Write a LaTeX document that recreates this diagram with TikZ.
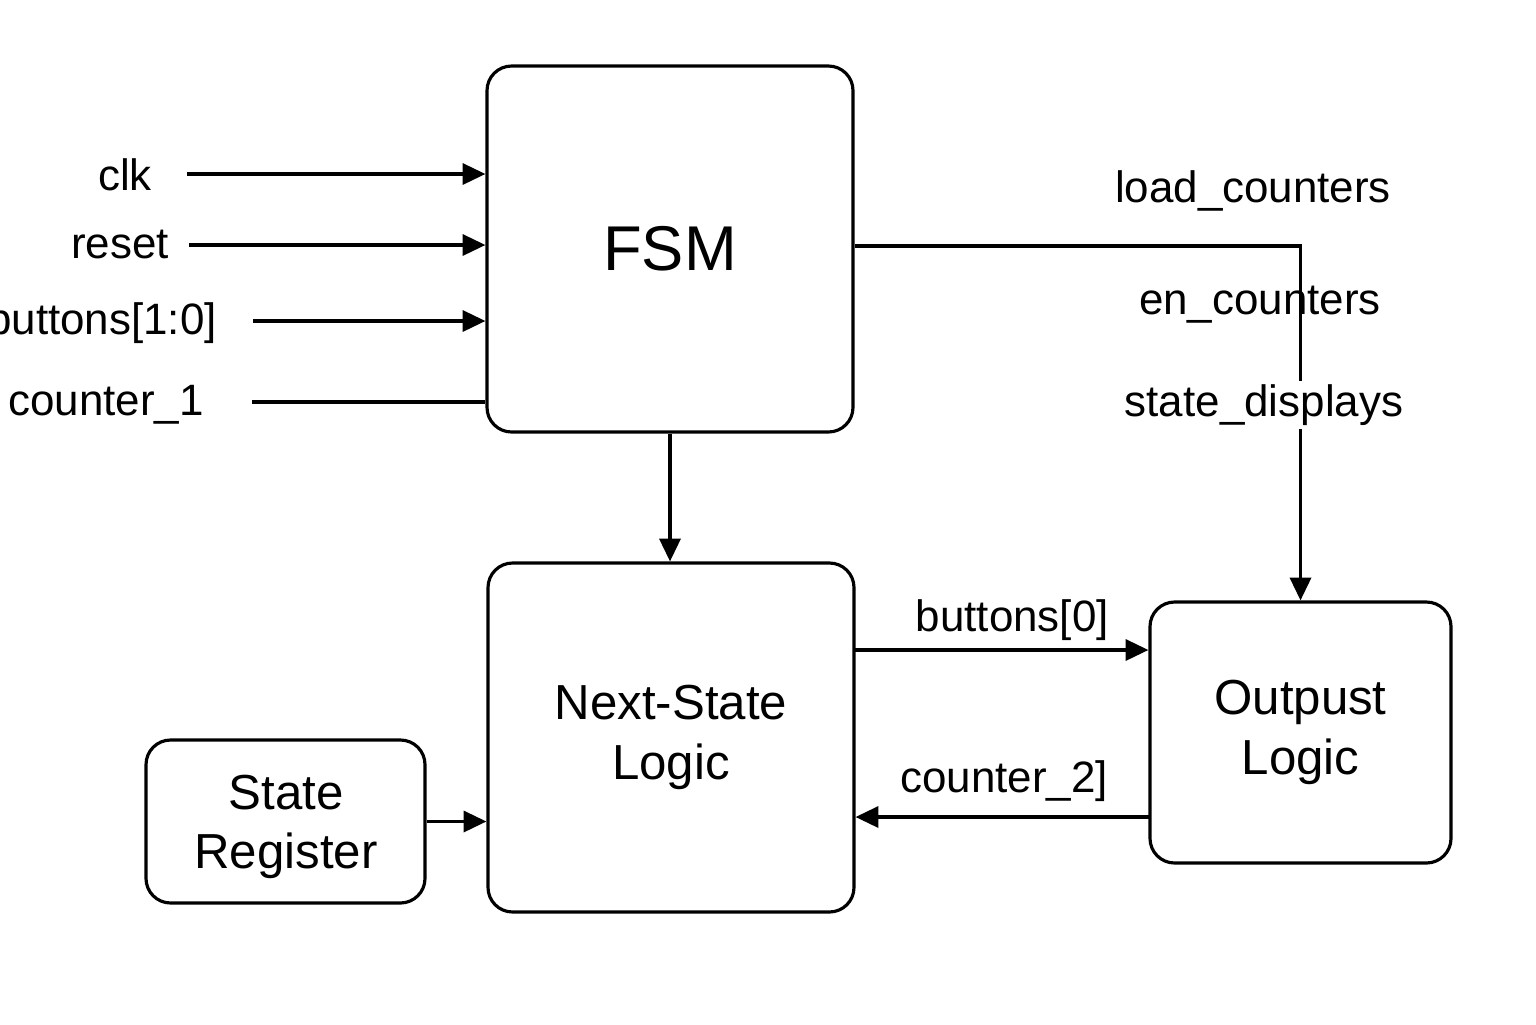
\documentclass[tikz,border=0pt]{standalone}
\usepackage{fontspec}
\setmainfont{Liberation Sans}
\usetikzlibrary{arrows.meta,positioning}

\begin{document}
\begin{tikzpicture}[
  block/.style = {draw, line width = 0.9pt, shape = rectangle, rounded corners = 7pt, align = center, font = \fontsize{14}{17}\selectfont},
  sig/.style = {font = \fontsize{12.5}{15}\selectfont, inner sep = 1pt},
  wire/.style = {line width = 0.9pt},
  arr/.style = {wire, -{Triangle[length = 6.5pt, width = 6pt]}}
]
\useasboundingbox (0,0) rectangle (15.36,-10.24);
% blocks
\node[block, minimum width = 3.66cm, minimum height = 3.66cm, font = \fontsize{18}{21}\selectfont] (fsm) at (6.70,-2.49) {FSM};
\node[block, minimum width = 3.66cm, minimum height = 3.49cm] (nsl) at (6.71,-7.375) {Next-State\\Logic};
\node[block, minimum width = 2.79cm, minimum height = 1.63cm] (reg) at (2.855,-8.215) {};
\node[align = center, font = \fontsize{14}{17}\selectfont] (regtxt) at (2.86,-8.27) {State\\Register};
\node[block, minimum width = 3.01cm, minimum height = 2.61cm] (out) at (13.005,-7.325) {Outpust\\Logic};
% inputs of the FSM
\node[sig, anchor = east] (clk) at (1.56,-1.75) {clk};
\node[sig, anchor = east] (rst) at (1.73,-2.45) {reset};
\node[sig, anchor = east] (btn) at (2.21,-3.23) {buttons[1:0]};
\node[sig, anchor = east] (cnt1) at (2.08,-4.05) {counter\_1};
\coordinate (clkin) at (1.87,-1.74);
\coordinate (rstin) at (1.89,-2.45);
\coordinate (btnin) at (2.53,-3.21);
\coordinate (cnt1in) at (2.52,-4.02);
\draw[arr] (clkin) -- (clkin -| fsm.west);
\draw[arr] (rstin) -- (rstin -| fsm.west);
\draw[arr] (btnin) -- (btnin -| fsm.west);
\draw[wire] (cnt1in) -- (cnt1in -| fsm.west);
% FSM to the other blocks
\draw[arr] (fsm.south) -- (fsm.south |- nsl.north);
\coordinate (bend) at (13.005,-2.46);
\draw[arr] (fsm.east |- bend) -- (bend) -- (out.north);
\node[sig] (load) at (12.53,-1.91) {load\_counters};
\node[sig] (en) at (12.60,-3.05) {en\_counters};
\node[sig, fill = white] (disp) at (12.64,-4.05) {state\_displays};
% between the lower blocks
\coordinate (b0) at (8.54,-6.50);
\coordinate (c2) at (11.50,-8.17);
\draw[arr] (b0) -- (b0 -| out.west);
\draw[arr] (c2) -- (c2 -| nsl.east);
\node[sig, anchor = south east] (b0lbl) at (11.13,-6.45) {buttons[0]};
\node[sig, anchor = south east] (c2lbl) at (11.12,-8.06) {counter\_2]};
\draw[arr] (reg.east) -- (reg.east -| nsl.west);
\end{tikzpicture}
\end{document}
